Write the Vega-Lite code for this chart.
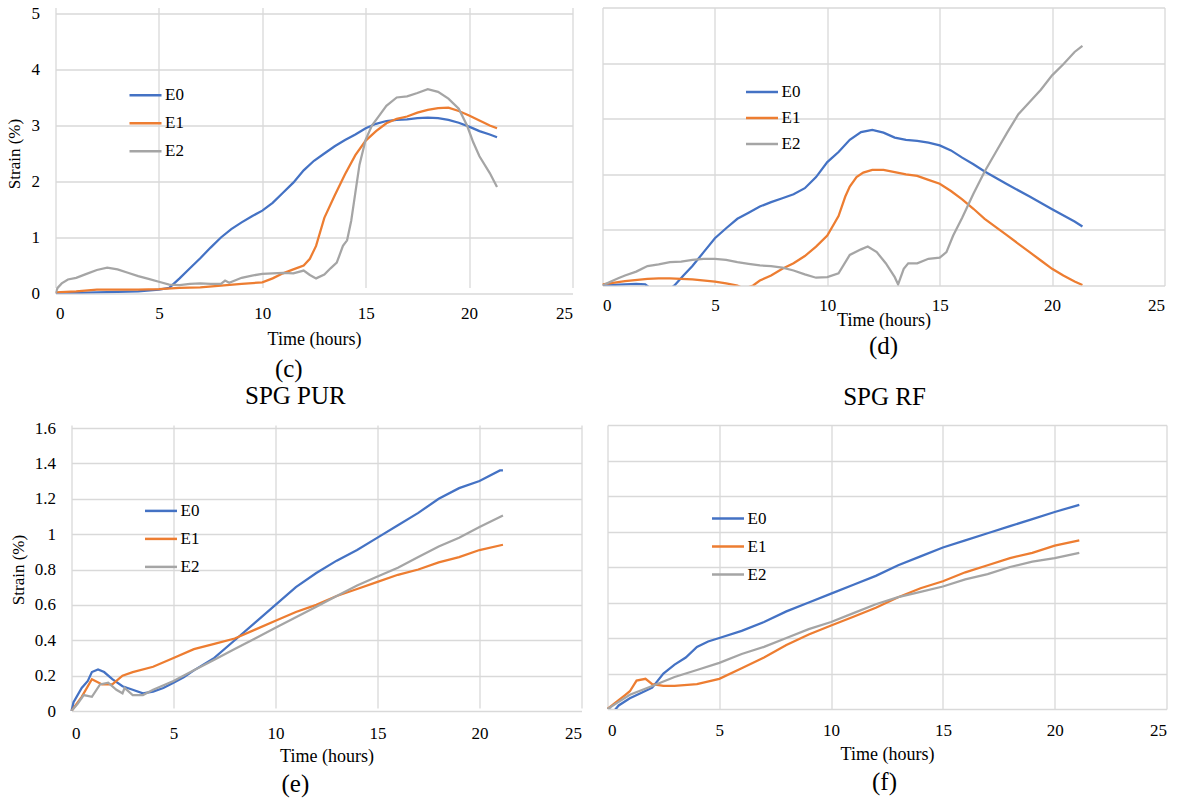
{
  "$schema": "https://vega.github.io/schema/vega-lite/v6.json",
  "padding": 4.5,
  "datasets": {
    "c": [
      {"t":0,"v":0,"k":"E0"},{"t":1,"v":0.01,"k":"E0"},{"t":2,"v":0.02,"k":"E0"},{"t":3,"v":0.03,"k":"E0"},{"t":4,"v":0.04,"k":"E0"},{"t":5,"v":0.07,"k":"E0"},{"t":5.5,"v":0.1,"k":"E0"},{"t":6,"v":0.27,"k":"E0"},{"t":6.5,"v":0.45,"k":"E0"},{"t":7,"v":0.63,"k":"E0"},{"t":7.5,"v":0.82,"k":"E0"},{"t":8,"v":1.0,"k":"E0"},{"t":8.5,"v":1.15,"k":"E0"},{"t":9,"v":1.27,"k":"E0"},{"t":9.5,"v":1.38,"k":"E0"},{"t":10,"v":1.48,"k":"E0"},{"t":10.5,"v":1.62,"k":"E0"},{"t":11,"v":1.8,"k":"E0"},{"t":11.5,"v":1.98,"k":"E0"},{"t":12,"v":2.2,"k":"E0"},{"t":12.5,"v":2.37,"k":"E0"},{"t":13,"v":2.5,"k":"E0"},{"t":13.5,"v":2.63,"k":"E0"},{"t":14,"v":2.74,"k":"E0"},{"t":14.5,"v":2.84,"k":"E0"},{"t":15,"v":2.95,"k":"E0"},{"t":15.5,"v":3.03,"k":"E0"},{"t":16,"v":3.08,"k":"E0"},{"t":16.5,"v":3.1,"k":"E0"},{"t":17,"v":3.11,"k":"E0"},{"t":17.5,"v":3.13,"k":"E0"},{"t":18,"v":3.14,"k":"E0"},{"t":18.5,"v":3.13,"k":"E0"},{"t":19,"v":3.1,"k":"E0"},{"t":19.5,"v":3.05,"k":"E0"},{"t":20,"v":2.98,"k":"E0"},{"t":20.5,"v":2.9,"k":"E0"},{"t":21,"v":2.84,"k":"E0"},{"t":21.35,"v":2.79,"k":"E0"},
      {"t":0,"v":0.02,"k":"E1"},{"t":0.5,"v":0.03,"k":"E1"},{"t":1,"v":0.04,"k":"E1"},{"t":2,"v":0.07,"k":"E1"},{"t":3,"v":0.07,"k":"E1"},{"t":4,"v":0.07,"k":"E1"},{"t":5,"v":0.08,"k":"E1"},{"t":6,"v":0.1,"k":"E1"},{"t":7,"v":0.11,"k":"E1"},{"t":8,"v":0.14,"k":"E1"},{"t":9,"v":0.17,"k":"E1"},{"t":10,"v":0.2,"k":"E1"},{"t":10.5,"v":0.27,"k":"E1"},{"t":11,"v":0.36,"k":"E1"},{"t":11.5,"v":0.43,"k":"E1"},{"t":12,"v":0.5,"k":"E1"},{"t":12.3,"v":0.62,"k":"E1"},{"t":12.6,"v":0.85,"k":"E1"},{"t":13,"v":1.35,"k":"E1"},{"t":13.5,"v":1.75,"k":"E1"},{"t":14,"v":2.13,"k":"E1"},{"t":14.5,"v":2.47,"k":"E1"},{"t":15,"v":2.73,"k":"E1"},{"t":15.5,"v":2.9,"k":"E1"},{"t":16,"v":3.04,"k":"E1"},{"t":16.5,"v":3.12,"k":"E1"},{"t":17,"v":3.16,"k":"E1"},{"t":17.5,"v":3.23,"k":"E1"},{"t":18,"v":3.28,"k":"E1"},{"t":18.5,"v":3.31,"k":"E1"},{"t":19,"v":3.32,"k":"E1"},{"t":19.5,"v":3.26,"k":"E1"},{"t":20,"v":3.18,"k":"E1"},{"t":20.5,"v":3.09,"k":"E1"},{"t":21,"v":3.0,"k":"E1"},{"t":21.35,"v":2.95,"k":"E1"},
      {"t":0,"v":0.0,"k":"E2"},{"t":0.1,"v":0.1,"k":"E2"},{"t":0.3,"v":0.18,"k":"E2"},{"t":0.6,"v":0.25,"k":"E2"},{"t":1,"v":0.28,"k":"E2"},{"t":1.5,"v":0.35,"k":"E2"},{"t":2,"v":0.42,"k":"E2"},{"t":2.5,"v":0.46,"k":"E2"},{"t":3,"v":0.43,"k":"E2"},{"t":3.5,"v":0.37,"k":"E2"},{"t":4,"v":0.31,"k":"E2"},{"t":4.5,"v":0.26,"k":"E2"},{"t":5,"v":0.21,"k":"E2"},{"t":5.5,"v":0.16,"k":"E2"},{"t":6,"v":0.15,"k":"E2"},{"t":6.5,"v":0.17,"k":"E2"},{"t":7,"v":0.18,"k":"E2"},{"t":7.5,"v":0.17,"k":"E2"},{"t":8,"v":0.17,"k":"E2"},{"t":8.2,"v":0.23,"k":"E2"},{"t":8.4,"v":0.19,"k":"E2"},{"t":9,"v":0.28,"k":"E2"},{"t":9.5,"v":0.32,"k":"E2"},{"t":10,"v":0.35,"k":"E2"},{"t":10.5,"v":0.36,"k":"E2"},{"t":11,"v":0.37,"k":"E2"},{"t":11.5,"v":0.36,"k":"E2"},{"t":12,"v":0.41,"k":"E2"},{"t":12.3,"v":0.33,"k":"E2"},{"t":12.6,"v":0.27,"k":"E2"},{"t":13,"v":0.34,"k":"E2"},{"t":13.3,"v":0.45,"k":"E2"},{"t":13.6,"v":0.55,"k":"E2"},{"t":13.9,"v":0.85,"k":"E2"},{"t":14.1,"v":0.95,"k":"E2"},{"t":14.3,"v":1.3,"k":"E2"},{"t":14.5,"v":1.8,"k":"E2"},{"t":14.7,"v":2.3,"k":"E2"},{"t":15,"v":2.75,"k":"E2"},{"t":15.3,"v":3.0,"k":"E2"},{"t":15.6,"v":3.15,"k":"E2"},{"t":16,"v":3.35,"k":"E2"},{"t":16.5,"v":3.5,"k":"E2"},{"t":17,"v":3.52,"k":"E2"},{"t":17.5,"v":3.58,"k":"E2"},{"t":18,"v":3.65,"k":"E2"},{"t":18.5,"v":3.6,"k":"E2"},{"t":19,"v":3.48,"k":"E2"},{"t":19.5,"v":3.3,"k":"E2"},{"t":19.9,"v":3.0,"k":"E2"},{"t":20.2,"v":2.7,"k":"E2"},{"t":20.5,"v":2.45,"k":"E2"},{"t":21,"v":2.15,"k":"E2"},{"t":21.35,"v":1.9,"k":"E2"}
    ],
    "d": [
      {"t":0,"v":0,"k":"E0"},{"t":0.5,"v":0.01,"k":"E0"},{"t":1,"v":0.02,"k":"E0"},{"t":1.5,"v":0.03,"k":"E0"},{"t":1.9,"v":0.02,"k":"E0"},{"t":2.3,"v":-0.1,"k":"E0"},{"t":2.8,"v":-0.12,"k":"E0"},{"t":3.2,"v":0,"k":"E0"},{"t":3.6,"v":0.18,"k":"E0"},{"t":4,"v":0.35,"k":"E0"},{"t":4.5,"v":0.6,"k":"E0"},{"t":5,"v":0.85,"k":"E0"},{"t":5.5,"v":1.03,"k":"E0"},{"t":6,"v":1.2,"k":"E0"},{"t":6.5,"v":1.31,"k":"E0"},{"t":7,"v":1.42,"k":"E0"},{"t":7.5,"v":1.5,"k":"E0"},{"t":8,"v":1.57,"k":"E0"},{"t":8.5,"v":1.64,"k":"E0"},{"t":9,"v":1.75,"k":"E0"},{"t":9.5,"v":1.95,"k":"E0"},{"t":10,"v":2.22,"k":"E0"},{"t":10.5,"v":2.4,"k":"E0"},{"t":11,"v":2.62,"k":"E0"},{"t":11.5,"v":2.76,"k":"E0"},{"t":12,"v":2.8,"k":"E0"},{"t":12.5,"v":2.75,"k":"E0"},{"t":13,"v":2.66,"k":"E0"},{"t":13.5,"v":2.62,"k":"E0"},{"t":14,"v":2.6,"k":"E0"},{"t":14.5,"v":2.57,"k":"E0"},{"t":15,"v":2.52,"k":"E0"},{"t":15.5,"v":2.43,"k":"E0"},{"t":16,"v":2.3,"k":"E0"},{"t":16.5,"v":2.18,"k":"E0"},{"t":17,"v":2.05,"k":"E0"},{"t":18,"v":1.82,"k":"E0"},{"t":19,"v":1.6,"k":"E0"},{"t":20,"v":1.37,"k":"E0"},{"t":21,"v":1.15,"k":"E0"},{"t":21.35,"v":1.06,"k":"E0"},
      {"t":0,"v":0.02,"k":"E1"},{"t":1,"v":0.08,"k":"E1"},{"t":2,"v":0.12,"k":"E1"},{"t":2.5,"v":0.13,"k":"E1"},{"t":3,"v":0.13,"k":"E1"},{"t":4,"v":0.11,"k":"E1"},{"t":5,"v":0.07,"k":"E1"},{"t":5.5,"v":0.04,"k":"E1"},{"t":6,"v":0.0,"k":"E1"},{"t":6.3,"v":-0.06,"k":"E1"},{"t":6.7,"v":0.0,"k":"E1"},{"t":7,"v":0.09,"k":"E1"},{"t":7.5,"v":0.18,"k":"E1"},{"t":8,"v":0.3,"k":"E1"},{"t":8.5,"v":0.4,"k":"E1"},{"t":9,"v":0.53,"k":"E1"},{"t":9.5,"v":0.7,"k":"E1"},{"t":10,"v":0.9,"k":"E1"},{"t":10.5,"v":1.25,"k":"E1"},{"t":10.8,"v":1.6,"k":"E1"},{"t":11,"v":1.78,"k":"E1"},{"t":11.3,"v":1.95,"k":"E1"},{"t":11.6,"v":2.03,"k":"E1"},{"t":12,"v":2.08,"k":"E1"},{"t":12.5,"v":2.08,"k":"E1"},{"t":13,"v":2.04,"k":"E1"},{"t":13.5,"v":2.0,"k":"E1"},{"t":14,"v":1.97,"k":"E1"},{"t":14.5,"v":1.9,"k":"E1"},{"t":15,"v":1.83,"k":"E1"},{"t":15.5,"v":1.7,"k":"E1"},{"t":16,"v":1.55,"k":"E1"},{"t":16.5,"v":1.38,"k":"E1"},{"t":17,"v":1.2,"k":"E1"},{"t":17.5,"v":1.05,"k":"E1"},{"t":18,"v":0.9,"k":"E1"},{"t":18.5,"v":0.75,"k":"E1"},{"t":19,"v":0.6,"k":"E1"},{"t":19.5,"v":0.45,"k":"E1"},{"t":20,"v":0.3,"k":"E1"},{"t":20.5,"v":0.18,"k":"E1"},{"t":21,"v":0.07,"k":"E1"},{"t":21.35,"v":0.01,"k":"E1"},
      {"t":0,"v":0,"k":"E2"},{"t":0.3,"v":0.06,"k":"E2"},{"t":0.7,"v":0.13,"k":"E2"},{"t":1,"v":0.18,"k":"E2"},{"t":1.5,"v":0.25,"k":"E2"},{"t":2,"v":0.35,"k":"E2"},{"t":2.5,"v":0.38,"k":"E2"},{"t":3,"v":0.42,"k":"E2"},{"t":3.5,"v":0.43,"k":"E2"},{"t":4,"v":0.46,"k":"E2"},{"t":4.5,"v":0.48,"k":"E2"},{"t":5,"v":0.48,"k":"E2"},{"t":5.5,"v":0.46,"k":"E2"},{"t":6,"v":0.42,"k":"E2"},{"t":6.5,"v":0.39,"k":"E2"},{"t":7,"v":0.36,"k":"E2"},{"t":7.5,"v":0.35,"k":"E2"},{"t":8,"v":0.32,"k":"E2"},{"t":8.5,"v":0.27,"k":"E2"},{"t":9,"v":0.2,"k":"E2"},{"t":9.5,"v":0.14,"k":"E2"},{"t":10,"v":0.15,"k":"E2"},{"t":10.5,"v":0.22,"k":"E2"},{"t":11,"v":0.55,"k":"E2"},{"t":11.5,"v":0.65,"k":"E2"},{"t":11.8,"v":0.7,"k":"E2"},{"t":12.2,"v":0.6,"k":"E2"},{"t":12.6,"v":0.4,"k":"E2"},{"t":13,"v":0.15,"k":"E2"},{"t":13.15,"v":0.02,"k":"E2"},{"t":13.4,"v":0.3,"k":"E2"},{"t":13.6,"v":0.4,"k":"E2"},{"t":14,"v":0.4,"k":"E2"},{"t":14.5,"v":0.48,"k":"E2"},{"t":15,"v":0.5,"k":"E2"},{"t":15.3,"v":0.6,"k":"E2"},{"t":15.6,"v":0.9,"k":"E2"},{"t":16,"v":1.22,"k":"E2"},{"t":16.5,"v":1.65,"k":"E2"},{"t":17,"v":2.05,"k":"E2"},{"t":17.5,"v":2.4,"k":"E2"},{"t":18,"v":2.75,"k":"E2"},{"t":18.5,"v":3.08,"k":"E2"},{"t":19,"v":3.3,"k":"E2"},{"t":19.5,"v":3.52,"k":"E2"},{"t":20,"v":3.78,"k":"E2"},{"t":20.5,"v":3.98,"k":"E2"},{"t":21,"v":4.2,"k":"E2"},{"t":21.35,"v":4.31,"k":"E2"}
    ],
    "e": [
      {"t":0,"v":0,"k":"E0"},{"t":0.1,"v":0.05,"k":"E0"},{"t":0.5,"v":0.13,"k":"E0"},{"t":0.8,"v":0.17,"k":"E0"},{"t":1.0,"v":0.22,"k":"E0"},{"t":1.3,"v":0.235,"k":"E0"},{"t":1.6,"v":0.22,"k":"E0"},{"t":2,"v":0.18,"k":"E0"},{"t":2.5,"v":0.14,"k":"E0"},{"t":3,"v":0.12,"k":"E0"},{"t":3.5,"v":0.1,"k":"E0"},{"t":4,"v":0.11,"k":"E0"},{"t":4.5,"v":0.13,"k":"E0"},{"t":5,"v":0.16,"k":"E0"},{"t":5.5,"v":0.19,"k":"E0"},{"t":6,"v":0.23,"k":"E0"},{"t":7,"v":0.3,"k":"E0"},{"t":8,"v":0.4,"k":"E0"},{"t":9,"v":0.5,"k":"E0"},{"t":10,"v":0.6,"k":"E0"},{"t":11,"v":0.7,"k":"E0"},{"t":12,"v":0.78,"k":"E0"},{"t":13,"v":0.85,"k":"E0"},{"t":14,"v":0.91,"k":"E0"},{"t":15,"v":0.98,"k":"E0"},{"t":16,"v":1.05,"k":"E0"},{"t":17,"v":1.12,"k":"E0"},{"t":18,"v":1.2,"k":"E0"},{"t":19,"v":1.26,"k":"E0"},{"t":20,"v":1.3,"k":"E0"},{"t":21,"v":1.36,"k":"E0"},{"t":21.15,"v":1.36,"k":"E0"},
      {"t":0,"v":0,"k":"E1"},{"t":0.5,"v":0.08,"k":"E1"},{"t":1.0,"v":0.18,"k":"E1"},{"t":1.5,"v":0.15,"k":"E1"},{"t":2,"v":0.15,"k":"E1"},{"t":2.5,"v":0.2,"k":"E1"},{"t":3,"v":0.22,"k":"E1"},{"t":4,"v":0.25,"k":"E1"},{"t":5,"v":0.3,"k":"E1"},{"t":6,"v":0.35,"k":"E1"},{"t":7,"v":0.38,"k":"E1"},{"t":8,"v":0.41,"k":"E1"},{"t":9,"v":0.46,"k":"E1"},{"t":10,"v":0.51,"k":"E1"},{"t":11,"v":0.56,"k":"E1"},{"t":12,"v":0.6,"k":"E1"},{"t":13,"v":0.65,"k":"E1"},{"t":14,"v":0.69,"k":"E1"},{"t":15,"v":0.73,"k":"E1"},{"t":16,"v":0.77,"k":"E1"},{"t":17,"v":0.8,"k":"E1"},{"t":18,"v":0.84,"k":"E1"},{"t":19,"v":0.87,"k":"E1"},{"t":20,"v":0.91,"k":"E1"},{"t":21.15,"v":0.94,"k":"E1"},
      {"t":0,"v":0,"k":"E2"},{"t":0.3,"v":0.04,"k":"E2"},{"t":0.6,"v":0.09,"k":"E2"},{"t":1.0,"v":0.08,"k":"E2"},{"t":1.4,"v":0.15,"k":"E2"},{"t":1.8,"v":0.16,"k":"E2"},{"t":2.2,"v":0.12,"k":"E2"},{"t":2.5,"v":0.1,"k":"E2"},{"t":2.6,"v":0.13,"k":"E2"},{"t":3,"v":0.09,"k":"E2"},{"t":3.5,"v":0.09,"k":"E2"},{"t":4,"v":0.12,"k":"E2"},{"t":5,"v":0.17,"k":"E2"},{"t":6,"v":0.23,"k":"E2"},{"t":7,"v":0.29,"k":"E2"},{"t":8,"v":0.35,"k":"E2"},{"t":9,"v":0.41,"k":"E2"},{"t":10,"v":0.47,"k":"E2"},{"t":11,"v":0.53,"k":"E2"},{"t":12,"v":0.59,"k":"E2"},{"t":13,"v":0.65,"k":"E2"},{"t":14,"v":0.71,"k":"E2"},{"t":15,"v":0.76,"k":"E2"},{"t":16,"v":0.81,"k":"E2"},{"t":17,"v":0.87,"k":"E2"},{"t":18,"v":0.93,"k":"E2"},{"t":19,"v":0.98,"k":"E2"},{"t":20,"v":1.04,"k":"E2"},{"t":21.15,"v":1.105,"k":"E2"}
    ],
    "f": [
      {"t":0,"v":0,"k":"E0"},{"t":0.3,"v":-0.01,"k":"E0"},{"t":0.5,"v":0.02,"k":"E0"},{"t":1,"v":0.06,"k":"E0"},{"t":1.5,"v":0.09,"k":"E0"},{"t":2,"v":0.12,"k":"E0"},{"t":2.5,"v":0.2,"k":"E0"},{"t":3,"v":0.25,"k":"E0"},{"t":3.5,"v":0.29,"k":"E0"},{"t":4,"v":0.35,"k":"E0"},{"t":4.5,"v":0.38,"k":"E0"},{"t":5,"v":0.4,"k":"E0"},{"t":6,"v":0.44,"k":"E0"},{"t":7,"v":0.49,"k":"E0"},{"t":8,"v":0.55,"k":"E0"},{"t":9,"v":0.6,"k":"E0"},{"t":10,"v":0.65,"k":"E0"},{"t":11,"v":0.7,"k":"E0"},{"t":12,"v":0.75,"k":"E0"},{"t":13,"v":0.81,"k":"E0"},{"t":14,"v":0.86,"k":"E0"},{"t":15,"v":0.91,"k":"E0"},{"t":16,"v":0.95,"k":"E0"},{"t":17,"v":0.99,"k":"E0"},{"t":18,"v":1.03,"k":"E0"},{"t":19,"v":1.07,"k":"E0"},{"t":20,"v":1.11,"k":"E0"},{"t":21.1,"v":1.15,"k":"E0"},
      {"t":0,"v":0,"k":"E1"},{"t":0.5,"v":0.05,"k":"E1"},{"t":0.8,"v":0.08,"k":"E1"},{"t":1.0,"v":0.1,"k":"E1"},{"t":1.3,"v":0.16,"k":"E1"},{"t":1.7,"v":0.17,"k":"E1"},{"t":2.0,"v":0.14,"k":"E1"},{"t":2.5,"v":0.13,"k":"E1"},{"t":3,"v":0.13,"k":"E1"},{"t":4,"v":0.14,"k":"E1"},{"t":5,"v":0.17,"k":"E1"},{"t":6,"v":0.23,"k":"E1"},{"t":7,"v":0.29,"k":"E1"},{"t":8,"v":0.36,"k":"E1"},{"t":9,"v":0.42,"k":"E1"},{"t":10,"v":0.47,"k":"E1"},{"t":11,"v":0.52,"k":"E1"},{"t":12,"v":0.57,"k":"E1"},{"t":13,"v":0.63,"k":"E1"},{"t":14,"v":0.68,"k":"E1"},{"t":15,"v":0.72,"k":"E1"},{"t":16,"v":0.77,"k":"E1"},{"t":17,"v":0.81,"k":"E1"},{"t":18,"v":0.85,"k":"E1"},{"t":19,"v":0.88,"k":"E1"},{"t":20,"v":0.92,"k":"E1"},{"t":21.1,"v":0.95,"k":"E1"},
      {"t":0,"v":0,"k":"E2"},{"t":0.5,"v":0.04,"k":"E2"},{"t":1,"v":0.08,"k":"E2"},{"t":2,"v":0.13,"k":"E2"},{"t":3,"v":0.18,"k":"E2"},{"t":4,"v":0.22,"k":"E2"},{"t":5,"v":0.26,"k":"E2"},{"t":6,"v":0.31,"k":"E2"},{"t":7,"v":0.35,"k":"E2"},{"t":8,"v":0.4,"k":"E2"},{"t":9,"v":0.45,"k":"E2"},{"t":10,"v":0.49,"k":"E2"},{"t":11,"v":0.54,"k":"E2"},{"t":12,"v":0.59,"k":"E2"},{"t":13,"v":0.63,"k":"E2"},{"t":14,"v":0.66,"k":"E2"},{"t":15,"v":0.69,"k":"E2"},{"t":16,"v":0.73,"k":"E2"},{"t":17,"v":0.76,"k":"E2"},{"t":18,"v":0.8,"k":"E2"},{"t":19,"v":0.83,"k":"E2"},{"t":20,"v":0.85,"k":"E2"},{"t":21.1,"v":0.88,"k":"E2"}
    ]
  },
  "resolve": {"scale": {"color": "independent"}, "legend": {"color": "independent"}},
  "columns": 2,
  "spacing": {"row": 2.5, "column": 21},
  "concat": [
    {
      "width": 517, "height": 286,
      "view": {"stroke": null},
      "data": {"name": "c"},
      "title": {"text": "(c)", "orient": "bottom", "frame": "bounds", "anchor": "middle", "offset": 8, "font": "Liberation Serif", "fontSize": 25, "fontWeight": "normal", "color": "#000"},
      "mark": {"type": "line", "clip": true, "strokeWidth": 2.25},
      "encoding": {
        "x": {"field": "t", "type": "quantitative", "scale": {"domain": [0, 25], "nice": false}, "axis": {"values": [0, 5, 10, 15, 20, 25], "title": "Time (hours)", "labelFont": "Liberation Serif", "labelFontSize": 17, "labelColor": "#000", "labelPadding": 12, "titleFont": "Liberation Serif", "titleFontSize": 18, "titleFontWeight": "normal", "titleColor": "#000", "titlePadding": 9, "grid": true, "gridColor": "#d9d9d9", "gridWidth": 1.3, "domain": false, "ticks": false}},
        "y": {"field": "v", "type": "quantitative", "scale": {"domain": [0, 5], "nice": false, "range": [286, 6]}, "axis": {"values": [0, 1, 2, 3, 4, 5], "title": "Strain (%)", "labelFont": "Liberation Serif", "labelFontSize": 17, "labelColor": "#000", "labelPadding": 16, "titleFont": "Liberation Serif", "titleFontSize": 17, "titleFontWeight": "normal", "titleColor": "#000", "titlePadding": 8, "grid": true, "gridColor": "#d9d9d9", "gridWidth": 1.3, "domain": false, "ticks": false}},
        "color": {"field": "k", "type": "nominal", "scale": {"domain": ["E0", "E1", "E2"], "range": ["#4472C4", "#ED7D31", "#A5A5A5"]}, "legend": {"orient": "none", "legendX": 72.5, "legendY": 70.2, "title": null, "symbolType": "stroke", "symbolSize": 1024, "symbolStrokeWidth": 2.5, "labelOffset": 2, "padding": 0, "symbolOffset": 0, "rowPadding": 2, "labelFont": "Liberation Serif", "labelFontSize": 17, "labelColor": "#000"}}
      }
    },
    {
      "width": 562, "height": 278,
      "view": {"stroke": null},
      "data": {"name": "d"},
      "title": {"text": "(d)", "orient": "bottom", "frame": "bounds", "anchor": "middle", "offset": 5, "font": "Liberation Serif", "fontSize": 25, "fontWeight": "normal", "color": "#000"},
      "mark": {"type": "line", "clip": true, "strokeWidth": 2.25},
      "encoding": {
        "x": {"field": "t", "type": "quantitative", "scale": {"domain": [0, 25], "nice": false}, "axis": {"values": [0, 5, 10, 15, 20, 25], "title": "Time (hours)", "labelFont": "Liberation Serif", "labelFontSize": 17, "labelColor": "#000", "labelPadding": 11.5, "titleFont": "Liberation Serif", "titleFontSize": 18, "titleFontWeight": "normal", "titleColor": "#000", "titlePadding": -2, "grid": true, "gridColor": "#d9d9d9", "gridWidth": 1.3, "domain": false, "ticks": false}},
        "y": {"field": "v", "type": "quantitative", "scale": {"domain": [0, 5], "nice": false}, "axis": {"values": [0, 1, 2, 3, 4, 5], "title": null, "labels": false, "grid": true, "gridColor": "#d9d9d9", "gridWidth": 1.3, "domain": false, "ticks": false}},
        "color": {"field": "k", "type": "nominal", "scale": {"domain": ["E0", "E1", "E2"], "range": ["#4472C4", "#ED7D31", "#A5A5A5"]}, "legend": {"orient": "none", "legendX": 142, "legendY": 67, "title": null, "symbolType": "stroke", "symbolSize": 1024, "symbolStrokeWidth": 2.5, "labelOffset": 2, "padding": 0, "symbolOffset": 0, "rowPadding": -1.5, "labelFont": "Liberation Serif", "labelFontSize": 17, "labelColor": "#000"}}
      }
    },
    {
      "title": {"text": "SPG PUR", "frame": "bounds", "offset": 10, "anchor": "middle", "font": "Liberation Serif", "fontSize": 25, "fontWeight": "normal", "color": "#000"},
      "vconcat": [
        {
          "width": 526, "height": 286,
          "view": {"stroke": null},
          "data": {"name": "e"},
          "title": {"text": "(e)", "orient": "bottom", "frame": "bounds", "anchor": "middle", "offset": 6.5, "font": "Liberation Serif", "fontSize": 25, "fontWeight": "normal", "color": "#000"},
          "mark": {"type": "line", "clip": true, "strokeWidth": 2.25},
          "encoding": {
            "x": {"field": "t", "type": "quantitative", "scale": {"domain": [0, 25], "nice": false, "range": [16, 526]}, "axis": {"values": [0, 5, 10, 15, 20, 25], "title": "Time (hours)", "labelFont": "Liberation Serif", "labelFontSize": 17, "labelColor": "#000", "labelPadding": 14, "titleFont": "Liberation Serif", "titleFontSize": 18, "titleFontWeight": "normal", "titleColor": "#000", "titlePadding": 6, "grid": true, "gridColor": "#d9d9d9", "gridWidth": 1.3, "domain": false, "ticks": false}},
            "y": {"field": "v", "type": "quantitative", "scale": {"domain": [0, 1.6], "nice": false, "range": [286, 3]}, "axis": {"values": [0, 0.2, 0.4, 0.6, 0.8, 1, 1.2, 1.4, 1.6], "format": "~g", "title": "Strain (%)", "labelFont": "Liberation Serif", "labelFontSize": 17, "labelColor": "#000", "labelPadding": 0, "titleFont": "Liberation Serif", "titleFontSize": 17, "titleFontWeight": "normal", "titleColor": "#000", "titlePadding": 7, "grid": true, "gridColor": "#d9d9d9", "gridWidth": 1.3, "domain": false, "ticks": false}},
            "color": {"field": "k", "type": "nominal", "scale": {"domain": ["E0", "E1", "E2"], "range": ["#4472C4", "#ED7D31", "#A5A5A5"]}, "legend": {"orient": "none", "legendX": 88, "legendY": 68.4, "title": null, "symbolType": "stroke", "symbolSize": 1024, "symbolStrokeWidth": 2.5, "labelOffset": 2, "padding": 0, "symbolOffset": 0, "rowPadding": 2, "labelFont": "Liberation Serif", "labelFontSize": 17, "labelColor": "#000"}}
          }
        }
      ]
    },
    {
      "title": {"text": "SPG RF", "frame": "bounds", "offset": 15, "anchor": "middle", "font": "Liberation Serif", "fontSize": 25, "fontWeight": "normal", "color": "#000"},
      "vconcat": [
        {
          "width": 564, "height": 284,
          "view": {"stroke": null},
          "data": {"name": "f"},
          "title": {"text": "(f)", "orient": "bottom", "frame": "bounds", "anchor": "middle", "offset": 6.5, "font": "Liberation Serif", "fontSize": 25, "fontWeight": "normal", "color": "#000"},
          "mark": {"type": "line", "clip": true, "strokeWidth": 2.25},
          "encoding": {
            "x": {"field": "t", "type": "quantitative", "scale": {"domain": [0, 25], "nice": false, "range": [5, 564]}, "axis": {"values": [0, 5, 10, 15, 20, 25], "title": "Time (hours)", "labelFont": "Liberation Serif", "labelFontSize": 17, "labelColor": "#000", "labelPadding": 13.5, "titleFont": "Liberation Serif", "titleFontSize": 18, "titleFontWeight": "normal", "titleColor": "#000", "titlePadding": 7, "grid": true, "gridColor": "#d9d9d9", "gridWidth": 1.3, "domain": false, "ticks": false}},
            "y": {"field": "v", "type": "quantitative", "scale": {"domain": [0, 1.6], "nice": false}, "axis": {"values": [0, 0.2, 0.4, 0.6, 0.8, 1, 1.2, 1.4, 1.6], "title": null, "labels": false, "grid": true, "gridColor": "#d9d9d9", "gridWidth": 1.3, "domain": false, "ticks": false}},
            "color": {"field": "k", "type": "nominal", "scale": {"domain": ["E0", "E1", "E2"], "range": ["#4472C4", "#ED7D31", "#A5A5A5"]}, "legend": {"orient": "none", "legendX": 108, "legendY": 76, "title": null, "symbolType": "stroke", "symbolSize": 1024, "symbolStrokeWidth": 2.5, "labelOffset": 2, "padding": 0, "symbolOffset": 0, "rowPadding": 2, "labelFont": "Liberation Serif", "labelFontSize": 17, "labelColor": "#000"}}
          }
        }
      ]
    }
  ]
}
